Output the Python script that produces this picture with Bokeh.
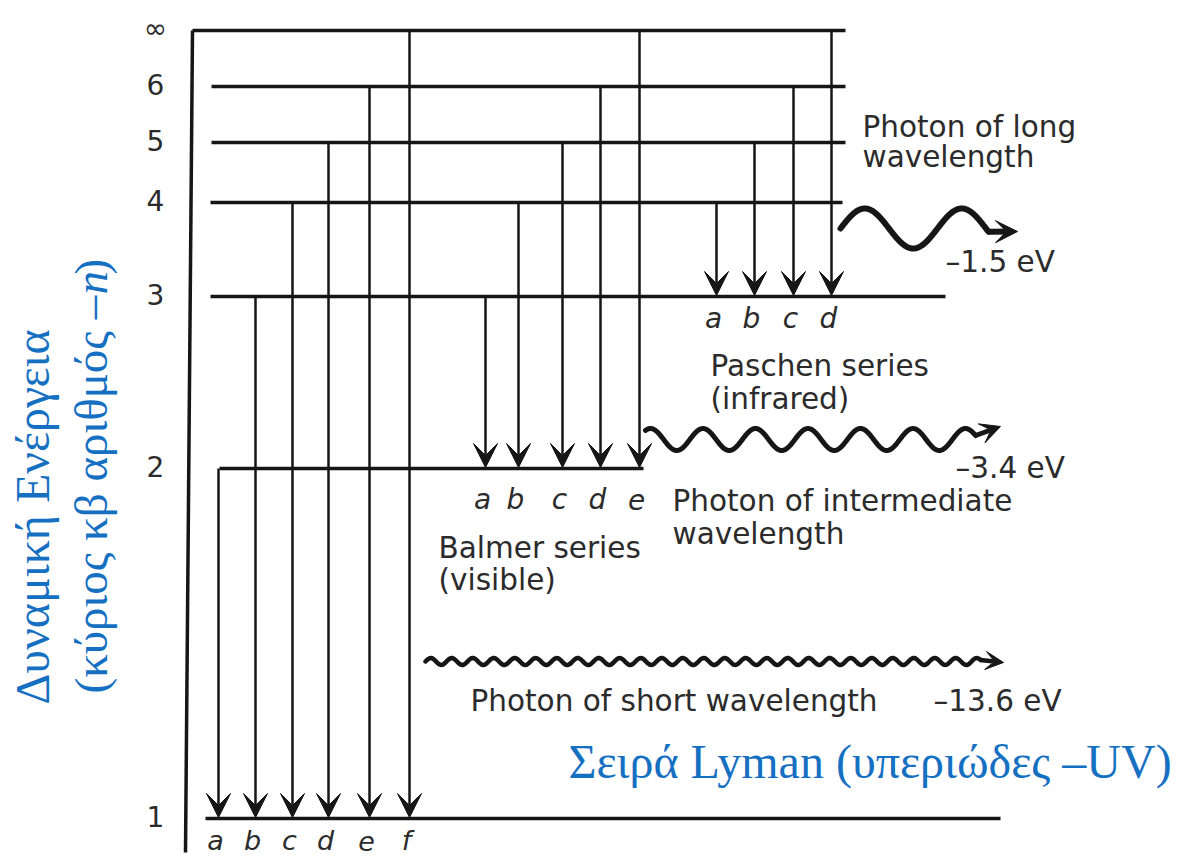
import numpy as np
from bokeh.plotting import figure
from bokeh.models import Range1d, Arrow, VeeHead, ColumnDataSource
from bokeh.core.properties import value
from bokeh.embed import file_html
from bokeh.resources import INLINE

# ---------------- data ----------------
# energy levels (principal quantum number) and their drawn heights
level_names = ["1", "2", "3", "4", "5", "6", "∞"]
level_y = [818, 468, 296, 202, 142, 86, 30]
level_x_start = [205, 219, 210, 210, 211, 211, 192]
level_x_end = [1000, 643, 945, 842, 845, 845, 845]

# transitions: letters, upper level, horizontal position
lyman_letters = ["a", "b", "c", "d", "e", "f"]
lyman_upper = ["2", "3", "4", "5", "6", "∞"]
lyman_x = [218, 255, 292, 328, 369, 409]

balmer_letters = ["a", "b", "c", "d", "e"]
balmer_upper = ["3", "4", "5", "6", "∞"]
balmer_x = [485, 518, 562, 600, 639]

paschen_letters = ["a", "b", "c", "d"]
paschen_upper = ["4", "5", "6", "∞"]
paschen_x = [716, 754, 793, 831]

# emitted photons
photon_energy = ["–1.5 eV", "–3.4 eV", "–13.6 eV"]
photon_x_start = [840, 645, 425]
photon_x_end = [988, 975, 980]
photon_y = [228, 439, 661]
photon_wavelength = [97, 52.5, 21]
photon_amplitude = [20, 11, 3.5]
photon_phase = [0.0, 0.155, 0.0]
photon_tip_x = [1017, 1000, 1003]
photon_tip_y = [231, 426, 662]

INK = "#161616"
TXT = "#2b2b2b"
BLUE = "#1670C2"
SANS = value("DejaVu Sans")
SERIF = value("Liberation Serif")

W, H = 1177, 857
p = figure(width=W, height=H, x_range=Range1d(0, W), y_range=Range1d(H, 0),
           output_backend="svg", toolbar_location=None,
           x_axis_location=None, y_axis_location=None, min_border=0)
p.grid.visible = False
p.outline_line_color = None
p.background_fill_color = "white"

lvl = dict(zip(level_names, level_y))

# vertical energy axis
p.line(x=[level_x_start[-1], 185], y=[lvl["∞"], 852], line_width=3.5, line_color=INK)

# level lines
p.segment(x0=level_x_start, y0=level_y, x1=level_x_end, y1=level_y,
          line_width=3.5, line_color=INK)

# level tick labels
p.text(x=[155] * len(level_names), y=level_y, text=level_names, y_offset=-2,
       text_font=SANS, text_font_size="28px", text_color=TXT,
       text_align="center", text_baseline="alphabetic")


def series(xs, uppers, lower, letters, letter_dy, size):
    src = ColumnDataSource(dict(x=xs, y0=[lvl[u] for u in uppers],
                                y1=[lvl[lower] - 1] * len(xs)))
    p.add_layout(Arrow(end=VeeHead(size=24, fill_color=INK, line_color=INK, line_width=1),
                       x_start="x", y_start="y0", x_end="x", y_end="y1",
                       line_width=2.5, line_color=INK, source=src))
    p.text(x=xs, y=[lvl[lower] + letter_dy] * len(xs), text=letters, x_offset=-3,
           text_font=SANS, text_font_style="italic", text_font_size=size,
           text_color=TXT, text_align="center", text_baseline="alphabetic")


series(lyman_x, lyman_upper, "1", lyman_letters, 22, "27px")
series(balmer_x, balmer_upper, "2", balmer_letters, 31, "28px")
series(paschen_x, paschen_upper, "3", paschen_letters, 22, "28px")

# photons (wavy lines with arrow heads)
widths = [6, 5, 4.5]
heads = [22, 20, 18]
for i in range(len(photon_energy)):
    xs = np.linspace(photon_x_start[i], photon_x_end[i], 400)
    ys = photon_y[i] - photon_amplitude[i] * np.sin(
        2 * np.pi * ((xs - photon_x_start[i]) / photon_wavelength[i] + photon_phase[i]))
    p.line(x=xs, y=ys, line_width=widths[i], line_color=INK, line_cap="round", line_join="round")
    p.add_layout(Arrow(end=VeeHead(size=heads[i], fill_color=INK, line_color=INK, line_width=1),
                       x_start=xs[-1], y_start=ys[-1], x_end=photon_tip_x[i], y_end=photon_tip_y[i],
                       line_width=widths[i], line_color=INK))

# black annotations
notes = ["Photon of long", "wavelength", "Paschen series", "(infrared)",
         "Photon of intermediate", "wavelength", "Balmer series", "(visible)",
         "Photon of short wavelength"]
notes_x = [862, 862, 710, 710, 672, 672, 438, 438, 470]
notes_y = [126, 156, 365, 398, 500, 533, 547, 579, 700]
p.text(x=notes_x, y=notes_y, text=notes, text_font=SANS, text_font_size="29.5px",
       text_color=TXT, text_align="left", text_baseline="alphabetic")

p.text(x=[945, 955, 933], y=[261, 467, 700], text=photon_energy, text_font=SANS,
       text_font_size="29.5px", text_color=TXT, text_align="left", text_baseline="alphabetic")

# blue Greek annotations
p.text(x=[568], y=[761], text=["Σειρά Lyman (υπεριώδες –UV)"], text_font=SERIF,
       text_font_size="48px", text_color=BLUE, text_align="left", text_baseline="alphabetic")

p.text(x=[32], y=[704], text=["Δυναμική Ενέργεια"], angle=np.pi / 2, text_font=SERIF,
       text_font_size="48px", text_color=BLUE, text_align="left", text_baseline="alphabetic")
p.text(x=[90], y=[693], text=["(κύριος κβ αριθμός –"], angle=np.pi / 2, text_font=SERIF,
       text_font_size="47px", text_color=BLUE, text_align="left", text_baseline="alphabetic")
p.text(x=[90], y=[294], text=["n"], angle=np.pi / 2, text_font=SERIF, text_font_style="italic",
       text_font_size="47px", text_color=BLUE, text_align="left", text_baseline="alphabetic")
p.text(x=[90], y=[274], text=[")"], angle=np.pi / 2, text_font=SERIF,
       text_font_size="47px", text_color=BLUE, text_align="left", text_baseline="alphabetic")

open("out.html", "w").write(file_html(p, INLINE))
